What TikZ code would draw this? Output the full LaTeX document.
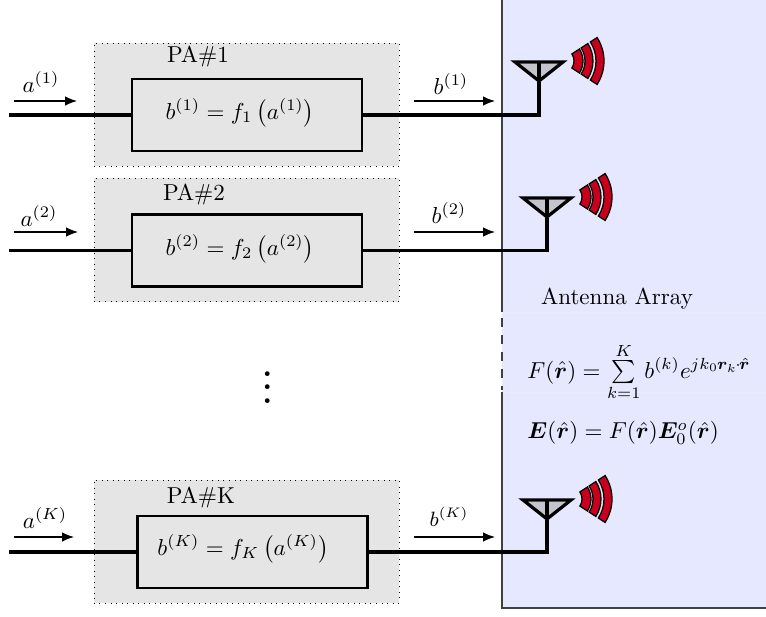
\documentclass[tikz,border=0pt]{standalone}
\usepackage{amsmath}
\usepackage{bm}
\usetikzlibrary{arrows.meta}

\begin{document}
\begin{tikzpicture}[x=0.434pt, y=-0.434pt]
 % --- styles ---
 \tikzset{
    paouter/.style={
        rectangle,
        draw,
        dotted,
        fill=black!10,
        inner sep=0pt,
        minimum width=132.4pt,
        minimum height=53.4pt
    },
    pabox/.style={
        rectangle,
        draw,
        line width=1.2pt,
        inner sep=0pt,
        minimum width=99.8pt,
        minimum height=31.2pt
    },
    wire/.style={line width=1.7pt},
    sig/.style={line width=0.6pt, -{Latex[length=5.2pt,width=4.2pt]}},
    wave/.style={draw, line width=0.55pt, fill=wavered},
    antenna/.pic={
        \fill[antgray] (-22,3) -- (22,3) -- (0,18) -- cycle;
        \draw[line width=1.4pt, line join=miter] (-24,1) -- (24,1) -- (0,20) -- cycle;
        \draw[line width=1.4pt] (0,1) -- (0,20);
        \foreach \ra/\rb in {13/22,24/32,35/43} {
            \path[wave] ([shift={(-33:\rb)}]22,0) arc[start angle=-33, end angle=33, radius=\rb]
                -- ([shift={(33:\ra)}]22,0) arc[start angle=33, end angle=-33, radius=\ra] -- cycle;
        }
    }
 }
 \definecolor{panelblue}{HTML}{E6E8FF}
 \definecolor{panelline}{HTML}{404040}
 \definecolor{wavered}{HTML}{C8001E}
 \definecolor{antgray}{HTML}{C4C4CC}

 \useasboundingbox (0,0) rectangle (766,617);

 % --- antenna array panel ---
 \fill[panelblue] (502,0) rectangle (766,608);
 \draw[blue!8, line width=0.3pt] (502,312) -- (766,312);
 \draw[blue!8, line width=0.3pt] (502,392) -- (766,392);
 \draw[panelline, line width=0.9pt] (502,0) -- (502,312);
 \draw[panelline, line width=0.9pt, dash pattern=on 4pt off 3.4pt] (502,318) -- (502,390);
 \draw[panelline, line width=0.9pt] (502,392) -- (502,608) -- (766,608);
 \node (ArrayName) at (617,299) {Antenna Array};
 \node[anchor=west, inner sep=0pt] (ArrayF) at (527,372)
    {$F(\hat{\bm{r}})=\sum\limits_{k=1}^{K} b^{(k)}e^{jk_0\mkern-1mu\bm{r}_k\mkern-1.5mu\cdot\mkern-1.5mu\hat{\bm{r}}}$};
 \node[anchor=west, inner sep=0pt] (ArrayE) at (527,433)
    {$\bm{E}(\hat{\bm{r}})=F(\hat{\bm{r}})\bm{E}_0^{o}(\hat{\bm{r}})$};

 % --- power amplifiers ---
 \node[paouter] (PA1) at (246.5,104.5) {};
 \node[paouter] (PA2) at (246.5,240) {};
 \node[paouter] (PAK) at (246.5,541.5) {};
 \node[pabox] (Box1) at (247,115) {};
 \node[pabox] (Box2) at (247,250.5) {};
 \node[pabox] (BoxK) at (252.5,552) {};
 \node (Name1) at (198,56) {PA$\#$1};
 \node (Name2) at (194,194) {PA$\#$2};
 \node (NameK) at (201,497) {PA$\#$K};
 \node (Eq1) at (240,113) {$b^{(1)}=f_1\left(a^{(1)}\right)$};
 \node (Eq2) at (240,249) {$b^{(2)}=f_2\left(a^{(2)}\right)$};
 \node (EqK) at (243,549) {$b^{(K)}=f_K\left(a^{(K)}\right)$};

 % --- antennas ---
 \coordinate (Ant1) at (539,82);
 \coordinate (Ant2) at (547,218);
 \coordinate (AntK) at (547,520);
 \pic at (539,61) {antenna};
 \pic at (547,197) {antenna};
 \pic at (547,499) {antenna};

 % --- wires ---
 \foreach \n/\wy in {1/115,2/250.5,K/552} {
    \coordinate (In\n) at (9,\wy);
    \draw[wire] (In\n) -- (Box\n.west);
    \draw[wire, line join=miter] (Box\n.east) -| (Ant\n);
 }

 % --- signal arrows and labels ---
 \foreach \n/\ay/\ax in {1/101/77,2/232/78,K/537/74} {
    \coordinate (SigA\n) at (14,\ay);
    \coordinate (SigAend\n) at (\ax,\ay);
    \coordinate (SigB\n) at (414,\ay);
    \coordinate (SigBend\n) at (495,\ay);
    \draw[sig] (SigA\n) -- (SigAend\n);
    \draw[sig] (SigB\n) -- (SigBend\n);
 }
 \node (LabA1) at (41,82) {$a^{(1)}$};
 \node (LabA2) at (39,216) {$a^{(2)}$};
 \node (LabAK) at (45,518) {$a^{(K)}$};
 \node (LabB1) at (451,84) {$b^{(1)}$};
 \node (LabB2) at (449,213) {$b^{(2)}$};
 \node[font=\small] (LabBK) at (449,517) {$b^{(K)}$};

 % --- dots ---
 \node[font=\LARGE, scale=1.45] (Dots) at (268,377.5) {$\vdots$};
\end{tikzpicture}
\end{document}
